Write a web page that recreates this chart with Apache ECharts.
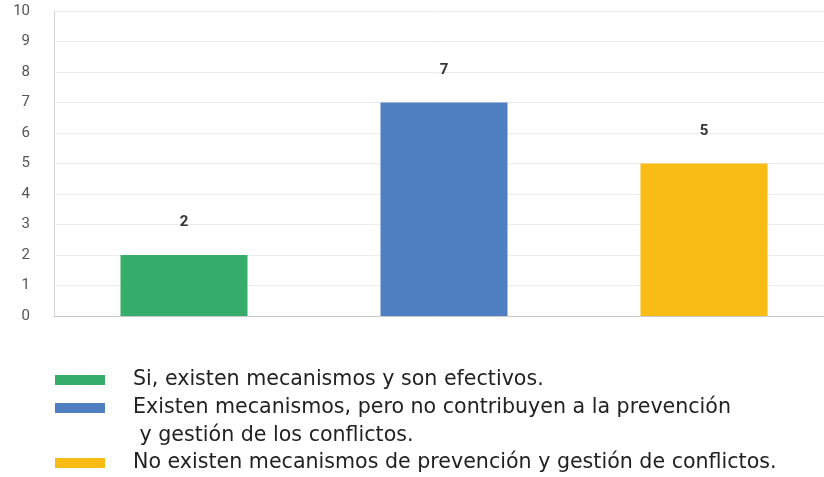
<!DOCTYPE html>
<html>
<head>
<meta charset="utf-8">
<script src="https://cdn.jsdelivr.net/npm/echarts@6/dist/echarts.min.js"></script>
<style>
  html, body { margin: 0; padding: 0; background: #fff; }
  #chart { width: 824px; height: 477px; }
</style>
</head>
<body>
<div id="chart"></div>
<script>
// data
var categories = [
    'Si, existen mecanismos y son efectivos.',
    'Existen mecanismos, pero no contribuyen a la prevención\n y gestión de los conflictos.',
    'No existen mecanismos de prevención y gestión de conflictos.'
]
var values = [2, 7, 5]
var barColors = ['#37ad6b', '#4f7fc0', '#f8bc15']
var yTicks = [0, 1, 2, 3, 4, 5, 6, 7, 8, 9, 10]

var chart = echarts.init(document.getElementById('chart'))

var legendTops = [366, 366, 449]
var legends = categories.map(function (name, i) {
    var multi = name.indexOf('\n') >= 0
    return {
        data: [{ name: name, icon: 'rect' }],
        left: 55,
        top: legendTops[i],
        padding: 0,
        selectedMode: false,
        itemWidth: 50,
        itemHeight: 10,
        // blank first line keeps the icon next to the first text line
        formatter: multi ? function (n) { return ' \n' + n } : '{name}',
        textStyle: {
            fontFamily: 'DejaVu Sans',
            fontSize: 20.6,
            lineHeight: 28,
            color: '#222',
            padding: [0, 0, 0, 23]
        }
    }
})

var option = {
    animation: false,
    grid: {
        left: 54,
        width: 780,
        top: 11,
        bottom: 161,
        outerBoundsMode: 'none'
    },
    legend: legends,
    xAxis: {
        type: 'category',
        data: categories,
        axisLabel: { show: false },
        axisTick: { show: false },
        axisLine: { show: true, lineStyle: { color: '#c8c8c8', width: 1 } }
    },
    yAxis: {
        type: 'value',
        min: yTicks[0],
        max: yTicks[yTicks.length - 1],
        interval: 1,
        axisLine: { show: true, lineStyle: { color: '#d4d4d4', width: 1 } },
        axisTick: { show: false },
        splitLine: { show: true, lineStyle: { color: '#ececec', width: 1 } },
        axisLabel: {
            margin: 24,
            color: '#555',
            fontFamily: 'Roboto',
            fontSize: 15
        }
    },
    series: categories.map(function (name, i) {
        var d = categories.map(function () { return '-' })
        d[i] = values[i]
        return {
            name: name,
            type: 'bar',
            stack: 'all',
            barWidth: 127,
            itemStyle: { color: barColors[i] },
            label: {
                show: true,
                position: 'top',
                distance: 25,
                color: '#333',
                fontFamily: 'Roboto',
                fontWeight: 'bold',
                fontSize: 15
            },
            data: d
        }
    })
}

chart.setOption(option)
</script>
</body>
</html>
